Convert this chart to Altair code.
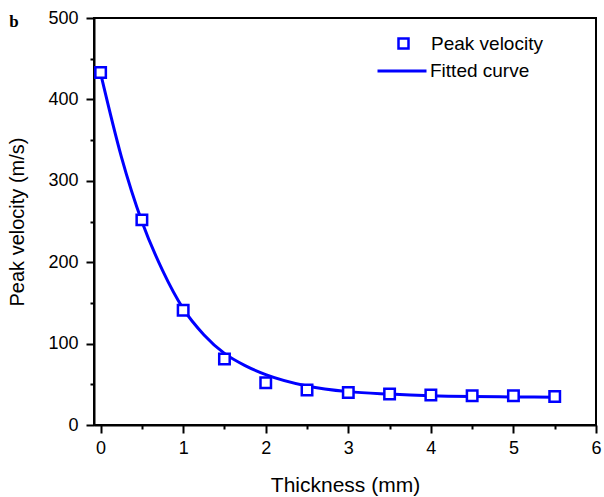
import altair as alt
import pandas as pd

thickness = [0, 0.5, 1, 1.5, 2, 2.5, 3, 3.5, 4, 4.5, 5, 5.5]
peak_velocity = [433, 252, 141, 81, 52, 43, 40, 38, 37, 36, 36, 35]

# Fitted curve
fit_x = [0, 0.25, 0.5, 0.75, 1, 1.25, 1.5, 1.75, 2, 2.5, 3, 3.5, 4, 4.5, 5, 5.5]
fit_y = [432, 330, 250, 190, 143, 111, 88, 73, 62, 48, 41, 38, 36, 35, 34.5, 34]

x_ticks = [0, 0.5, 1, 1.5, 2, 2.5, 3, 3.5, 4, 4.5, 5, 5.5, 6]
y_ticks = [0, 50, 100, 150, 200, 250, 300, 350, 400, 450, 500]

pts = pd.DataFrame({"x": thickness, "y": peak_velocity, "name": "Peak velocity"})
fit = pd.DataFrame({"x": fit_x, "y": fit_y, "name": "Fitted curve"})
lab = pd.DataFrame({"t": ["b"]})

FONT = "Liberation Sans"

x_axis = alt.Axis(
    values=x_ticks,
    labelExpr="datum.value % 1 === 0 ? format(datum.value, 'd') : ''",
    tickSize={"condition": {"test": "datum.value % 1 === 0", "value": 8}, "value": 4},
    title="Thickness (mm)",
    titleFontSize=21,
    titleFontWeight="normal",
    titleFont=FONT,
    titlePadding=17,
    labelFontSize=18,
    labelFont=FONT,
    labelPadding=6,
    labelColor="black",
    titleColor="black",
    grid=False,
    domainColor="black",
    domainWidth=2,
    tickColor="black",
    tickWidth=2,
    labelFlush=False,
)
y_axis = alt.Axis(
    values=y_ticks,
    labelExpr="datum.value % 100 === 0 ? format(datum.value, 'd') : ''",
    tickSize={"condition": {"test": "datum.value % 100 === 0", "value": 8}, "value": 4},
    title="Peak velocity (m/s)",
    titleFontSize=20,
    titleFontWeight="normal",
    titleFont=FONT,
    titlePadding=20,
    labelFontSize=18,
    labelFont=FONT,
    labelPadding=8,
    labelColor="black",
    titleColor="black",
    grid=False,
    domainColor="black",
    domainWidth=2,
    tickColor="black",
    tickWidth=2,
    labelFlush=False,
)

xs = alt.Scale(domain=[-0.08, 6], nice=False, zero=False)
ys = alt.Scale(domain=[0, 500], nice=False)

line = alt.Chart(fit).mark_line(strokeWidth=3, interpolate="monotone").encode(
    x=alt.X("x:Q", scale=xs, axis=x_axis),
    y=alt.Y("y:Q", scale=ys, axis=y_axis),
    color=alt.Color(
        "name:N",
        scale=alt.Scale(domain=["Fitted curve"], range=["#0000ff"]),
        legend=alt.Legend(
            title=None,
            orient="none",
            legendX=282,
            legendY=27,
            symbolType="stroke",
            symbolSize=2400,
            symbolStrokeWidth=3,
            symbolStrokeColor="#0000ff",
            labelFont=FONT,
            labelFontSize=19,
            labelColor="black",
            labelOffset=2,
            padding=0,
        ),
    ),
)

points = alt.Chart(pts).mark_point(
    shape="square", size=110, filled=False, fill="white",
    fillOpacity=1, strokeWidth=2.5, opacity=1,
).encode(
    x=alt.X("x:Q", scale=xs),
    y=alt.Y("y:Q", scale=ys),
    stroke=alt.Stroke(
        "name:N",
        scale=alt.Scale(domain=["Peak velocity"], range=["#0000ff"]),
        legend=alt.Legend(
            title=None,
            orient="none",
            legendX=300,
            legendY=16,
            symbolType="square",
            symbolSize=100,
            symbolStrokeWidth=2.5,
            symbolFillColor="white",
            symbolOpacity=1,
            labelFont=FONT,
            labelFontSize=19,
            labelColor="black",
            labelOffset=18,
            padding=0,
        ),
    ),
)

panel_label = alt.Chart(lab).mark_text(
    font="Liberation Serif", fontWeight="bold", fontSize=17, color="black",
    align="center", baseline="middle",
).encode(x=alt.value(-80), y=alt.value(4), text="t:N")

chart = alt.layer(line, points, panel_label).resolve_legend(
    color="independent", stroke="independent"
).resolve_scale(color="independent", stroke="independent").properties(
    width=502,
    height=407,
    autosize=alt.AutoSizeParams(type="none"),
    padding={"left": 94, "top": 18, "right": 8, "bottom": 72},
    background="white",
).configure_view(stroke="black", strokeWidth=2)

chart.save("out.html", embed_options={"renderer": "svg", "actions": False})
